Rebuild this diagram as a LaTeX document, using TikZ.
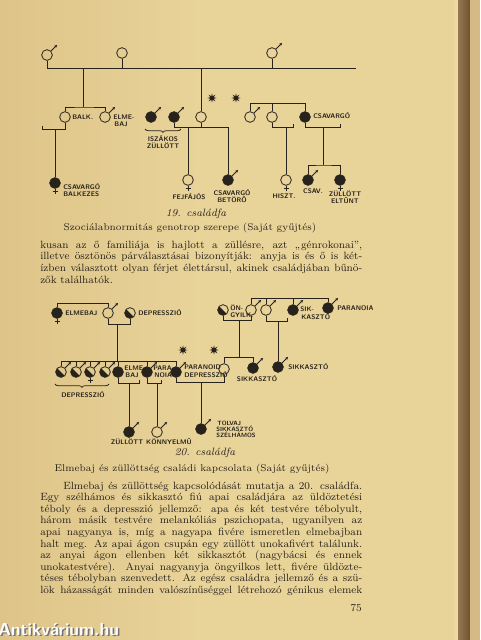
\documentclass[tikz,border=0pt]{standalone}
\usepackage{fontspec}
\usetikzlibrary{arrows.meta,shapes.geometric,decorations.pathreplacing}
\definecolor{paper}{RGB}{232,211,153}
\definecolor{paperD}{RGB}{222,196,136}
\definecolor{ink}{RGB}{40,34,28}
\definecolor{spine}{RGB}{112,82,48}
\definecolor{band}{RGB}{240,222,170}
\definecolor{edge}{RGB}{212,186,132}
\tikzset{
 ind/.style={circle, draw=ink, line width=0.6pt, inner sep=0pt, minimum size=8pt},
 fil/.style={ind, fill=ink},
 half/.style={ind, path picture={\fill[ink] (path picture bounding box.north west) -- (path picture bounding box.south east) -- (path picture bounding box.south west) -- cycle;}},
 con/.style={draw=ink, line width=0.55pt},
 lab/.style={font=\fontsize{5}{5.6}\selectfont\sffamily\bfseries, text=ink, inner sep=0pt, align=left},
 txt/.style={font=\fontsize{7.9}{8}\selectfont\addfontfeature{LetterSpace=5}, text=ink, inner sep=0pt, anchor=base west},
 capt/.style={font=\fontsize{7.4}{8}\selectfont\addfontfeature{LetterSpace=3}, text=ink, inner sep=0pt, anchor=base},
 mar/.style={draw=ink, line width=0.7pt, -{Stealth[length=2.2pt,width=2.2pt]}},
 sun/.style={star, star points=8, star point ratio=2.4, fill=ink, inner sep=0pt, minimum size=7pt},
 brc/.style={draw=ink, line width=0.55pt, decorate, decoration={brace, amplitude=2.5pt, mirror}},
}
\newcommand\mmale[1]{\draw[mar] (#1.45) -- ++(6,-6);}
\newcommand\ffem[1]{\draw[con] (#1.south) -- ++(0,5) ++(-2.5,-2) -- ++(5,0);}
\begin{document}
\begin{tikzpicture}[x=0.75pt,y=-0.75pt]
\useasboundingbox (0,0) rectangle (480,640);
% page
\shade[left color=paperD, right color=paper] (0,0) rectangle (200,640);
\fill[paper] (199,0) rectangle (452,640);
\shade[left color=paper, right color=band] (452,0) rectangle (458,640);
\shade[left color=spine!70!paper, right color=spine] (458,0) rectangle (470,640);
\fill[edge] (470,0) rectangle (480,640);

% ===== diagram 19 =====
\node[ind] (A) at (47,55) {}; \mmale{A}
\node[ind] (B) at (122,53) {};
\node[ind] (C) at (272,53) {}; \mmale{C}
\coordinate (t1) at (47,68); \coordinate (t2) at (356,68);
\draw[con] (A.south) -- (t1) -- (t2);
\draw[con] (B.south) -- (B.south |- t1);
\draw[con] (C.south) -- (C.south |- t1);

\node[ind] (D) at (65,117) {};
\node[ind] (E) at (105,117) {}; \mmale{E}
\node[fil] (F) at (151,117) {}; \mmale{F}
\node[fil] (G) at (174,117) {}; \mmale{G}
\node[ind] (H) at (201,117) {};
\node[ind] (I) at (250,117) {}; \mmale{I}
\node[ind] (J) at (272,117) {};
\node[fil] (K) at (305,117) {};
\node[lab, anchor=west] (lD) at (72,117) {BALK.};
\node[lab, anchor=west] (lE) at (113,121) {ELME-\\\,BAJ};
\node[lab, anchor=west] (lK) at (313,116) {CSAVARGÓ};
\node[sun] (st1) at (212,98) {};
\node[sun] (st2) at (236,98) {};

\coordinate (d1) at (83,68); \coordinate (s1) at (83,107);
\draw[con] (d1) -- (s1);
\draw[con] (D.north) |- (s1) -| (E.north);
\draw[con] (H.north) -- (H.north |- t1);
\coordinate (s2) at (250,103);
\draw[con] (I.north) |- (K.north |- s2) -- (K.north);
\draw[con] (J.north) -- (J.north |- s2);

\draw[brc] (145,129) -- (181,129);
\node[lab, align=center] (lFG) at (163,142) {ISZÁKOS\\ZÜLLÖTT};

\node[fil] (L) at (55,183) {}; \ffem{L}
\node[ind] (M) at (188,180) {}; \ffem{M}
\node[fil] (N) at (228,180) {}; \mmale{N}
\node[ind] (O) at (286,180) {}; \ffem{O}
\node[fil] (P) at (308,180) {}; \mmale{P}
\node[fil] (Q) at (340,180) {}; \ffem{Q}

\coordinate (m1) at (42,129); \coordinate (m1d) at (55,129);
\draw[con] (D.south) |- (m1) -- ++(0,-3);
\draw[con] (m1d) -- (L.north);
\coordinate (m2) at (174,127); \coordinate (m2r) at (228,127);
\draw[con] (G.south) -- (m2) -- (m2r) -- (N.north);
\draw[con] (H.south) -- (H.south |- m2);
\draw[con] (M.north |- m2) -- (M.north);
\coordinate (m3) at (293,127);
\draw[con] (J.south) |- (m3) -- ++(0,-3);
\draw[con] (O.north |- m3) -- (O.north);
\coordinate (m4) at (340,127); \coordinate (m4d) at (323,127); \coordinate (s3) at (323,165);
\draw[con] (K.south) |- (m4) -- ++(0,-3);
\draw[con] (m4d) -- (s3);
\draw[con] (P.north) |- (s3) -| (Q.north);

\node[lab, anchor=west] (lL) at (63,190) {CSAVARGÓ\\BALKEZES};
\node[lab] (lM) at (189,197) {FEJFÁJÓS};
\node[lab, align=center] (lN) at (232,196) {CSAVARGÓ\\BETÖRŐ};
\node[lab] (lO) at (284,196) {HISZT.};
\node[lab] (lP) at (313,191) {CSAV.};
\node[lab, align=center] (lQ) at (345,197) {ZÜLLÖTT\\ELTŰNT};

\node[capt, font=\fontsize{8}{8}\selectfont\itshape] (c19) at (196,216) {19. családfa};
\node[capt] (c19b) at (190,230) {Szociálabnormitás genotrop szerepe (Saját gyűjtés)};

% paragraph 1
\node[txt] (p1) at (40,248) {\makebox[241.5pt][s]{kusan az ő familiája is hajlott a züllésre, azt „génrokonai”,}};
\node[txt] (p2) at (40,259.8) {\makebox[241.5pt][s]{illetve ösztönös párválasztásai bizonyítják: anyja is és ő is két-}};
\node[txt] (p3) at (40,271.6) {\makebox[241.5pt][s]{ízben választott olyan férjet élettársul, akinek családjában bűnö-}};
\node[txt] (p4) at (40,283.4) {zők találhatók.};

% ===== diagram 20 =====
\node[fil] (R) at (57,313) {}; \ffem{R}
\node[ind] (S) at (108,313) {}; \mmale{S}
\node[half] (T) at (130,313) {};
\node[lab, anchor=west] (lR) at (65,313) {ELMEBAJ};
\node[lab, anchor=west] (lT) at (138,313) {DEPRESSZIÓ};
\coordinate (u1) at (57,303);
\draw[con] (R.north) |- (S.north |- u1) -- (S.north);
\coordinate (u2) at (117,324); \coordinate (u3) at (117,361);
\draw[con] (S.south) |- (T.south |- u2) -- (T.south);
\draw[con] (u2) -- (u3);

\node[half] (U1) at (61,372) {}; \mmale{U1}
\node[half] (U2) at (76,372) {}; \mmale{U2}
\node[half] (U3) at (90,372) {}; \mmale{U3} \ffem{U3}
\node[half] (U4) at (105,372) {}; \mmale{U4}
\node[fil] (V) at (118,372) {};
\node[fil] (W) at (147,372) {}; \mmale{W}
\node[fil] (X) at (176,372) {}; \mmale{X}
\draw[con] (U1.north) |- (X.north |- u3) -- (X.north);
\foreach \n in {U2,U3,U4,V,W} \draw[con] (\n.north) -- (\n.north |- u3);
\node[lab, anchor=west] (lV) at (124,372) {ELME-\\\,BAJ};
\node[lab, anchor=west] (lW) at (153,372) {PARA-\\\,NOIA};
\node[lab, anchor=west] (lX) at (184,371) {PARANOID\\DEPRESSZIÓ};
\draw[brc] (55,384) -- (109,384);
\node[lab] (lU) at (83,395) {DEPRESSZIÓ};
\node[sun] (st3) at (183,350) {};
\node[sun] (st4) at (214,350) {};

\node[half] (AA) at (223,310) {};
\node[ind] (AB) at (251,310) {}; \mmale{AB}
\node[ind] (AC) at (266,310) {}; \mmale{AC}
\node[fil] (AD) at (293,310) {}; \mmale{AD}
\node[fil] (AE) at (328,308) {}; \mmale{AE}
\node[lab, anchor=west] (lAA) at (230,311) {ÖN-\\GYILK.};
\node[lab, anchor=west] (lAD) at (300,313) {SIK-\\\,KASZTÓ};
\node[lab, anchor=west] (lAE) at (337,308) {PARANOIA};
\coordinate (s4) at (251,298);
\draw[con] (AB.north) |- (AE.north |- s4) -- (AE.north);
\draw[con] (AC.north) -- (AC.north |- s4);
\draw[con] (AD.north) -- (AD.north |- s4);
\coordinate (m5) at (239,320); \coordinate (s5) at (239,357);
\draw[con] (AA.south) |- (AB.south |- m5) -- (AB.south);
\draw[con] (m5) -- (s5);

\node[ind] (Y) at (224,369) {};
\node[fil] (AF) at (253,368) {}; \mmale{AF}
\draw[con] (Y.north) |- (AF.north |- s5) -- (AF.north);
\node[lab] (lAF) at (257,379) {SIKKASZTÓ};
\coordinate (m6) at (287,321); \coordinate (m6d) at (278,321);
\draw[con] (AC.south) |- (m6) -- ++(0,-3);
\node[fil] (AG) at (278,367) {}; \mmale{AG}
\draw[con] (m6d) -- (AG.north);
\node[lab, anchor=west] (lAG) at (288,367) {SIKKASZTÓ};

\node[fil] (Z1) at (129,432) {}; \mmale{Z1}
\node[ind] (Z2) at (157,432) {}; \mmale{Z2}
\node[fil] (Z3) at (201,429) {}; \mmale{Z3}
\coordinate (v1) at (139,383); \coordinate (v1d) at (129,383);
\draw[con] (V.south) |- (v1) -- ++(0,-3);
\draw[con] (v1d) -- (Z1.north);
\coordinate (w1) at (161,383); \coordinate (w1d) at (157,383);
\draw[con] (W.south) |- (w1) -- ++(0,-3);
\draw[con] (w1d) -- (Z2.north);
\coordinate (x1) at (201,382);
\draw[con] (X.south) |- (Y.south |- x1) -- (Y.south);
\draw[con] (x1) -- (Z3.north);
\node[lab] (lZ1) at (127,442) {ZÜLLÖTT};
\node[lab] (lZ2) at (169,442) {KÖNNYELMŰ};
\node[lab, anchor=west, font=\fontsize{4.6}{4.6}\selectfont\sffamily\bfseries] (lZ3) at (216,429) {\,TOLVAJ\\SIKKASZTÓ\\SZÉLHÁMOS};

\node[capt, font=\fontsize{8}{8}\selectfont\itshape] (c20) at (205,455) {20. családfa};
\node[capt] (c20b) at (192,471) {Elmebaj és züllöttség családi kapcsolata (Saját gyűjtés)};

% paragraph 2
\node[txt] (q1) at (63,489) {\makebox[224.25pt][s]{Elmebaj és züllöttség kapcsolódását mutatja a 20. családfa.}};
\node[txt] (q2) at (40,500.6) {\makebox[241.5pt][s]{Egy szélhámos és sikkasztó fiú apai családjára az üldöztetési}};
\node[txt] (q3) at (40,512.2) {\makebox[241.5pt][s]{téboly és a depresszió jellemző: apa és két testvére tébolyult,}};
\node[txt] (q4) at (40,523.8) {\makebox[241.5pt][s]{három másik testvére melankóliás pszichopata, ugyanilyen az}};
\node[txt] (q5) at (40,535.4) {\makebox[241.5pt][s]{apai nagyanya is, míg a nagyapa fivére ismeretlen elmebajban}};
\node[txt] (q6) at (40,547) {\makebox[241.5pt][s]{halt meg. Az apai ágon csupán egy züllött unokafivért találunk.}};
\node[txt] (q7) at (40,558.6) {\makebox[241.5pt][s]{az anyai ágon ellenben két sikkasztót (nagybácsi és ennek}};
\node[txt] (q8) at (40,570.2) {\makebox[241.5pt][s]{unokatestvére). Anyai nagyanyja öngyilkos lett, fivére üldözte-}};
\node[txt] (q9) at (40,581.8) {\makebox[241.5pt][s]{téses tébolyban szenvedett. Az egész családra jellemző és a szü-}};
\node[txt] (q10) at (40,593.4) {\makebox[241.5pt][s]{lök házasságát minden valószínűséggel létrehozó génikus elemek}};
\node[txt, anchor=base east] (pg) at (362,611) {75};

% watermark
\node[anchor=base west, inner sep=0pt, font=\fontsize{13}{14}\selectfont\sffamily\bfseries, text=black!55] (wm0) at (-0.5,636.5) {Antikvárium.hu};
\node[anchor=base west, inner sep=0pt, font=\fontsize{13}{14}\selectfont\sffamily\bfseries, text=white!92!paper] (wm) at (-2,635) {Antikvárium.hu};
\end{tikzpicture}
\end{document}
